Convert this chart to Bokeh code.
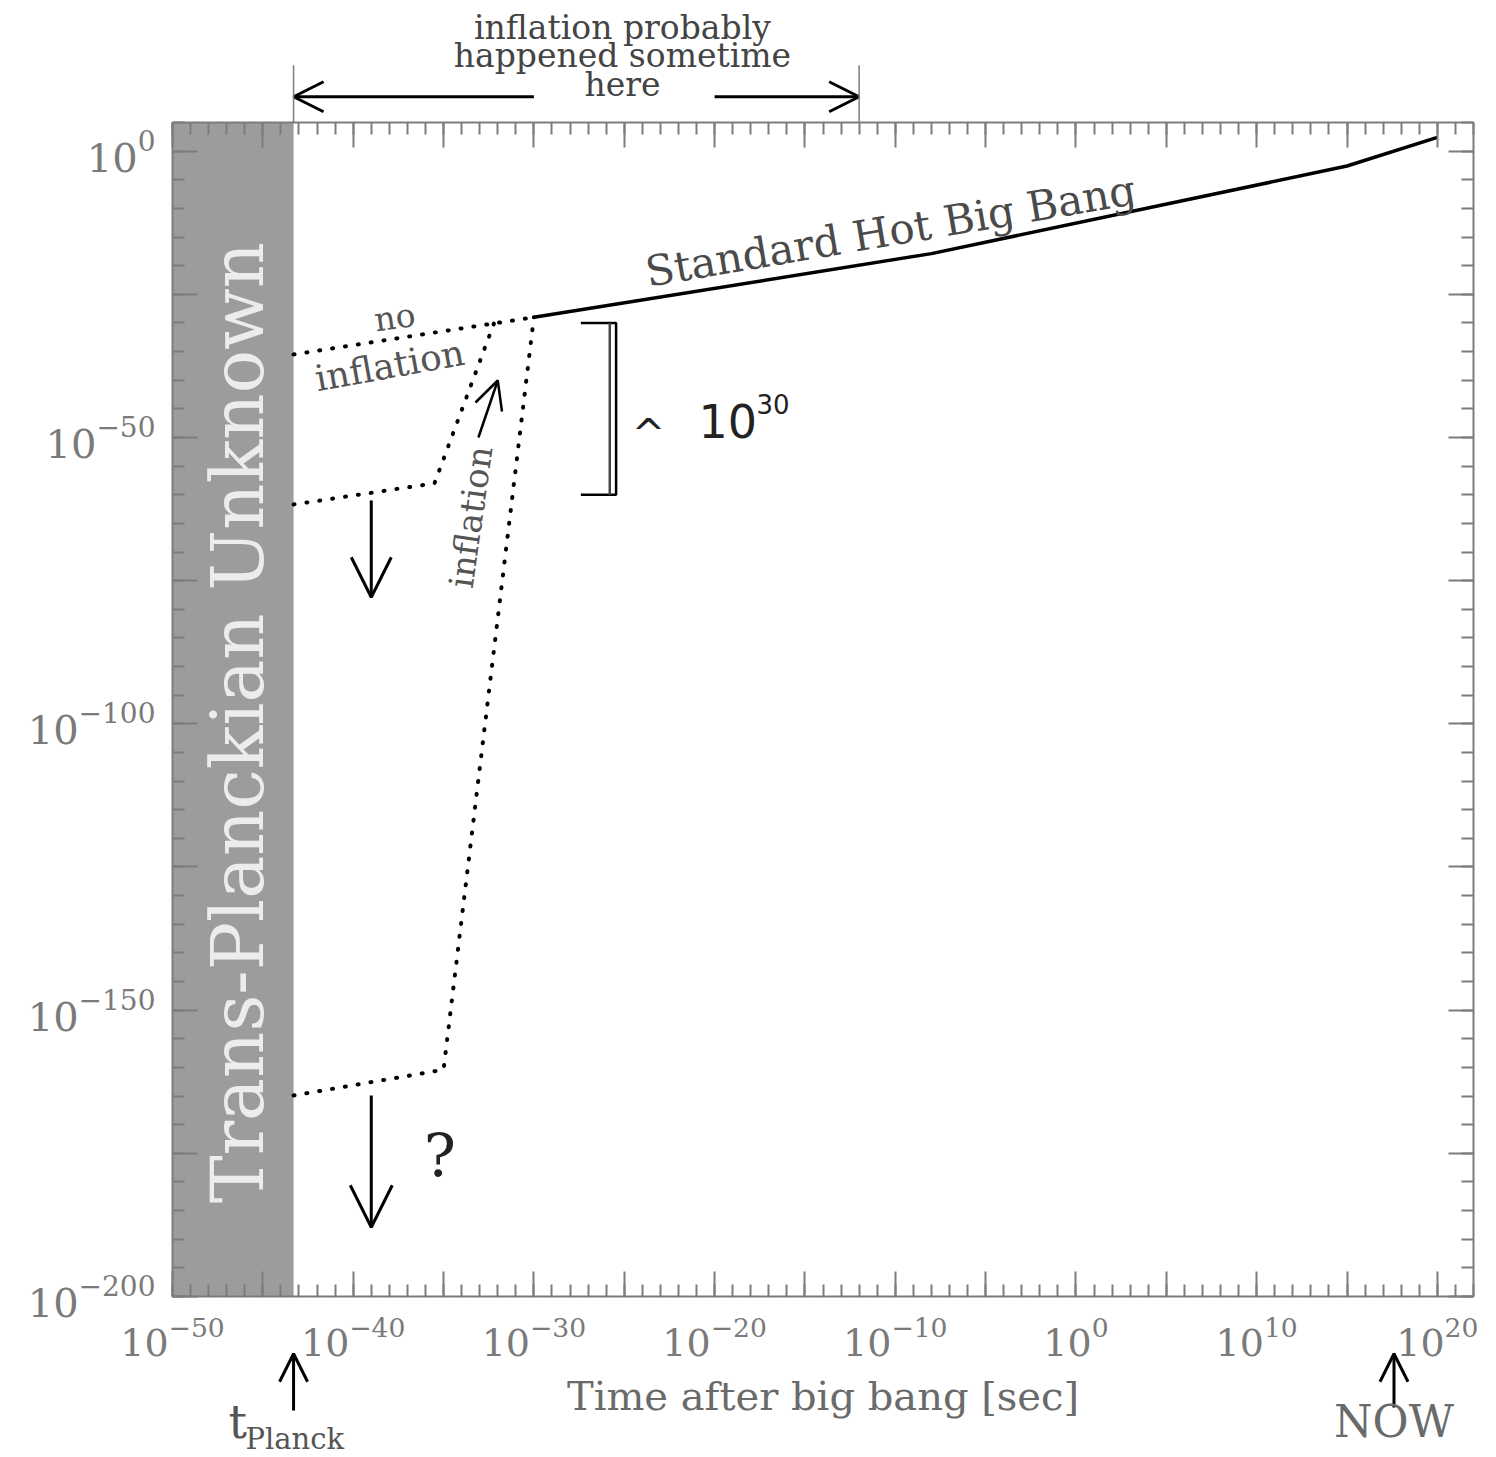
from bokeh.plotting import figure
from bokeh.models import (Range1d, LogAxis, LogScale, FixedTicker, LogTickFormatter, Label,
                          Arrow, OpenHead, BoxAnnotation)
from bokeh.embed import file_html
from bokeh.resources import INLINE

# ---------------- data (time [s] and scale factor) -------------
hbb_t = [1e-30, 1e-8, 1e15, 1e20]               # Standard Hot Big Bang (solid)
hbb_a = [10**-29.0, 10**-17.9, 10**-2.6, 10**2.4]

noinf_t = [10**-43.3, 1e-30]                     # "no inflation" (dotted)
noinf_a = [10**-35.5, 10**-29.0]

inf_small_t = [10**-43.3, 10**-35.5, 10**-32.2]  # modest inflation (dotted)
inf_small_a = [10**-61.7, 10**-58.0, 10**-30.0]

inf_large_t = [10**-43.3, 10**-35.0, 1e-30]      # large inflation (dotted)
inf_large_a = [10**-164.9, 10**-160.4, 10**-29.0]

t_planck = 10**-43.3
t_now = 10**17.6
inflation_window = [10**-43.3, 10**-12.0]
bracket_a = [1e-30, 1e-60]                       # ~10^30 span

x_major_exp = list(range(-50, 23, 5))
x_label_exp = [-50, -40, -30, -20, -10, 0, 10, 20]
y_major_exp = list(range(-200, 6, 25))
y_label_exp = [0, -50, -100, -150, -200]

X_LO, X_HI = -50, 22        # plot box, log10 seconds
Y_LO, Y_HI = -200, 5        # plot box, log10 scale factor

W, H = 1496, 1457
BOX_L, BOX_R, BOX_T, BOX_B = 172, 1473, 122, 1296
SX = (BOX_R - BOX_L) / (X_HI - X_LO)
SY = (BOX_B - BOX_T) / (Y_HI - Y_LO)

SERIF = "DejaVu Serif"
SANS = "DejaVu Sans"
AXIS_GRAY = "#7d7d7d"

p = figure(width=W, height=H, output_backend="svg", toolbar_location=None,
           x_axis_type=None, y_axis_type=None,
           x_range=Range1d(10**(X_LO - BOX_L / SX), 10**(X_HI + (W - BOX_R) / SX)),
           y_range=Range1d(10**(Y_LO - (H - BOX_B) / SY), 10**(Y_HI + BOX_T / SY)),
           min_border=0, min_border_left=0, min_border_right=0, min_border_top=0,
           min_border_bottom=0)
p.x_scale = LogScale()
p.y_scale = LogScale()
p.title.visible = False
p.outline_line_color = None
p.background_fill_color = "white"
p.border_fill_color = "white"

# gray trans-planckian band
p.add_layout(BoxAnnotation(left=10.0**X_LO, right=t_planck, bottom=10.0**Y_LO, top=10.0**Y_HI,
                           fill_color="#9c9c9c", fill_alpha=1.0, line_alpha=0, level="underlay"))

xt = FixedTicker(ticks=[10.0**e for e in x_major_exp],
                 minor_ticks=[10.0**e for e in range(X_LO, X_HI + 1)])
yt = FixedTicker(ticks=[10.0**e for e in y_major_exp],
                 minor_ticks=[10.0**e for e in range(Y_LO, Y_HI + 1, 5)])
xbounds = (10.0**X_LO, 10.0**X_HI)
ybounds = (10.0**Y_LO, 10.0**Y_HI)


def style_axis(ax):
    ax.axis_line_color = AXIS_GRAY
    ax.axis_line_width = 2
    ax.major_tick_line_color = AXIS_GRAY
    ax.minor_tick_line_color = AXIS_GRAY
    ax.major_tick_line_width = 2
    ax.minor_tick_line_width = 2
    ax.major_tick_in = 25
    ax.major_tick_out = 0
    ax.minor_tick_in = 12
    ax.minor_tick_out = 0
    ax.major_label_text_font = SERIF
    ax.major_label_text_font_size = "38px"
    ax.major_label_text_color = "#7a7a7a"


xb = LogAxis(ticker=xt, formatter=LogTickFormatter(), fixed_location=10.0**Y_LO, bounds=xbounds)
xb.major_label_overrides = {10.0**e: "" for e in x_major_exp if e not in x_label_exp}
xb.major_label_standoff = 21
xb.axis_label = "Time after big bang [sec]"
xb.axis_label_text_font = SERIF
xb.axis_label_text_font_size = "40px"
xb.axis_label_text_font_style = "normal"
xb.axis_label_text_color = "#6a6a6a"
xb.axis_label_standoff = 14
style_axis(xb)
p.add_layout(xb, "below")

yl = LogAxis(ticker=yt, formatter=LogTickFormatter(), fixed_location=10.0**X_LO, bounds=ybounds)
yl.major_label_overrides = {10.0**e: "" for e in y_major_exp if e not in y_label_exp}
yl.major_label_standoff = 17
style_axis(yl)
yl.major_label_text_font_size = "40px"
p.add_layout(yl, "left")

xa = LogAxis(ticker=xt, fixed_location=10.0**Y_HI, bounds=xbounds)
xa.major_label_overrides = {10.0**e: "" for e in x_major_exp}
style_axis(xa)
p.add_layout(xa, "above")

yr = LogAxis(ticker=yt, fixed_location=10.0**X_HI, bounds=ybounds)
yr.major_label_overrides = {10.0**e: "" for e in y_major_exp}
style_axis(yr)
p.add_layout(yr, "right")

# ---------------- curves ----------------
p.line(hbb_t, hbb_a, line_color="black", line_width=3.5)
for xs, ys in [(noinf_t, noinf_a), (inf_small_t, inf_small_a), (inf_large_t, inf_large_a)]:
    p.line(xs, ys, line_color="black", line_width=4, line_dash="1 12", line_cap="round")

# bracket ~10^30
bx0, bx1, bx2 = 10**-27.4, 10**-25.8, 10**-25.45
p.line([bx0, bx2, bx2, bx0], [bracket_a[0], bracket_a[0], bracket_a[1], bracket_a[1]],
       line_color="black", line_width=2.5)
p.line([bx1, bx1], bracket_a, line_color="#444444", line_width=2.5)


def arrow(lx0, ly0, lx1, ly1, size=38, width=3, color="black", head=True):
    p.add_layout(Arrow(end=OpenHead(size=size, line_width=width, line_color=color) if head else None,
                       x_start=10**lx0, y_start=10**ly0, x_end=10**lx1, y_end=10**ly1,
                       line_width=width, line_color=color))


# down arrows
arrow(-39.0, -61.0, -39.0, -77.9, size=40)
arrow(-39.0, -164.9, -39.0, -187.9, size=42)
# inflation up arrow
arrow(-33.07, -50.0, -32.0, -40.05, size=28, width=2.5)

# top "inflation probably happened sometime here"
TOP_Y = 9.5
w0, w1 = -43.3, -12.0
arrow(-30.0, TOP_Y, w0, TOP_Y, size=30, width=3)
arrow(-20.0, TOP_Y, w1, TOP_Y, size=30, width=3)
for xv in (w0, w1):
    arrow(xv, Y_HI, xv, 15.0, width=1.5, color=AXIS_GRAY, head=False)

# t_Planck and NOW arrows
arrow(-43.3, -219.9, -43.3, -210.0, size=28, width=3)
arrow(17.6, -219.4, 17.6, -210.0, size=28, width=3)


def label(lx, ly, text, size, color="#4a4a4a", font=SERIF, angle=0.0, align="center",
          baseline="middle"):
    p.add_layout(Label(x=10**lx, y=10**ly, text=text, text_font=font,
                       text_font_size=f"{size}px", text_color=color, angle=angle,
                       text_align=align, text_baseline=baseline))


label(-25.1, 21.6, "inflation probably", 33, color="#444444")
label(-25.1, 16.7, "happened sometime", 33, color="#444444")
label(-25.1, 11.7, "here", 33, color="#444444")

label(-46.4, -99.8, "Trans-Planckian Unknown", 72, color="#ececec", angle=1.5708)

label(-23.8, -21.2, "Standard Hot Big Bang", 42, angle=0.168, align="left")
label(-37.7, -29.0, "no", 33, color="#555555", angle=0.14)
label(-42.1, -39.8, "inflation", 36, color="#555555", angle=0.18, align="left")
label(-33.5, -63.9, "inflation", 34, color="#555555", angle=1.43)

label(-35.2, -175.4, "?", 60, color="#222222")

label(-23.66, -49.4, "^", 40, color="#222222", font=SANS)
label(-20.89, -47.12, "10", 46, color="#222222", font=SANS, align="left")
label(-17.68, -44.24, "30", 26, color="#222222", font=SANS, align="left")

label(-46.9, -222.0, "t", 46, color="#555555", align="left")
label(-45.96, -224.97, "Planck", 29, color="#555555", align="left")
label(17.6, -221.9, "NOW", 44, color="#6a6a6a")

open("out.html", "w").write(file_html(p, INLINE))
